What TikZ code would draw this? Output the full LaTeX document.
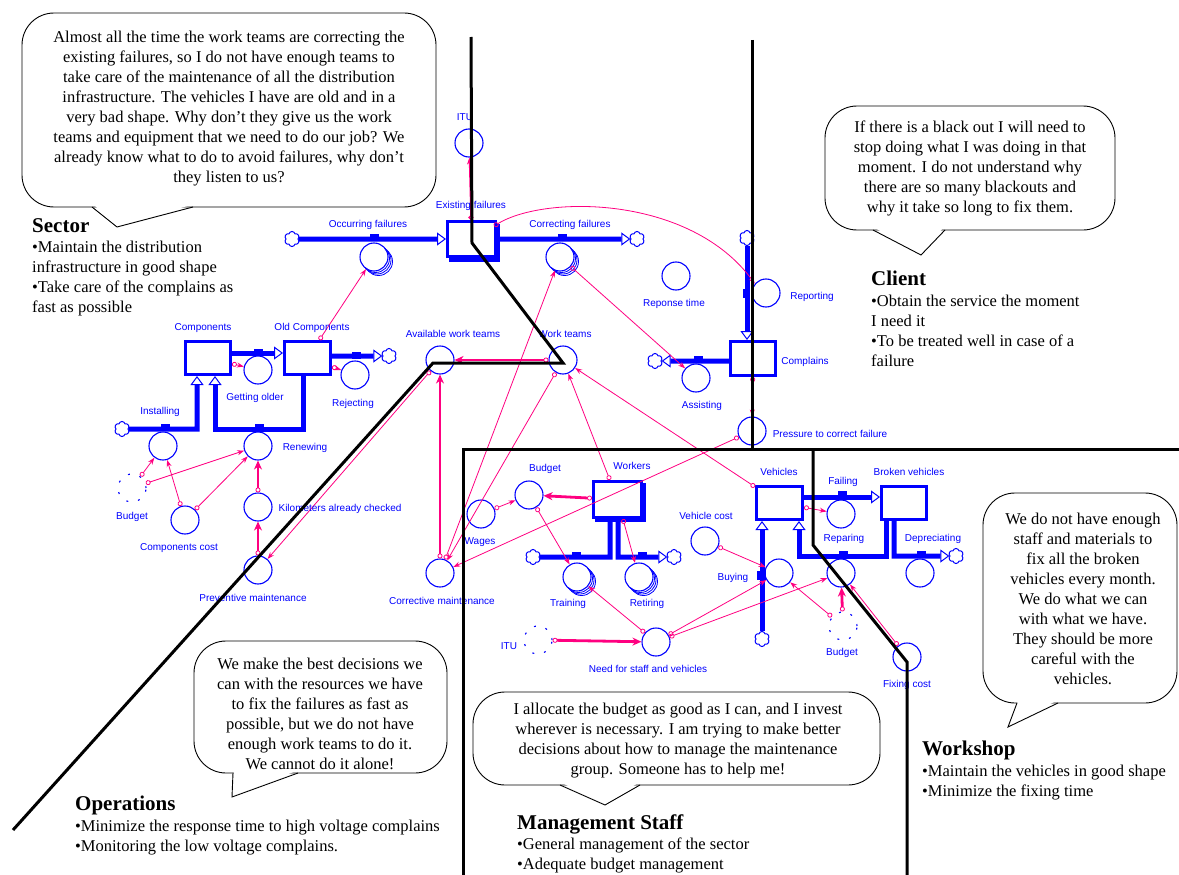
\documentclass[tikz,border=0pt]{standalone}
\usepackage{fontspec}
\setmainfont{Liberation Serif}
\newfontfamily\sdfont{Liberation Sans}
\usetikzlibrary{arrows.meta,shapes.symbols}

\definecolor{sdblue}{RGB}{0,0,255}
\definecolor{sdpink}{RGB}{255,0,128}

\tikzset{
  stock/.style={rectangle, draw=sdblue, line width=3pt, fill=white, inner sep=0pt},
  aux/.style={circle, draw=sdblue, line width=1.1pt, fill=white, minimum size=28pt, inner sep=0pt},
  ghost/.style={circle, draw=sdblue, line width=1.1pt, dash pattern=on 2pt off 10pt, minimum size=28pt, inner sep=0pt},
  cloudy/.style={cloud, cloud puffs=6, cloud puff arc=150, aspect=1, draw=sdblue, line width=1pt, fill=white, minimum width=15pt, minimum height=15pt, inner sep=0pt},
  valve/.style={rectangle, fill=sdblue, minimum width=9pt, minimum height=7pt, inner sep=0pt},
  pipe/.style={draw=sdblue, line width=5pt},
  inflow/.style={pipe, -{Triangle[length=9pt, width=13pt, line width=1pt, fill=white]}},
  link/.style={draw=sdpink, line width=0.8pt, {Circle[open, length=5pt, width=5pt]}-{Stealth[length=7pt, width=5pt]}},
  thicklink/.style={draw=sdpink, line width=2.8pt, {Circle[open, length=5pt, width=5pt, line width=0.8pt]}-{Stealth[length=9pt, width=8pt]}},
  varname/.style={font=\sdfont\fontsize{10}{12}\selectfont, text=sdblue, inner sep=0pt},
  bubble/.style={draw=black, line width=0.9pt, fill=white, rounded corners=32pt},
  say/.style={font=\fontsize{16.5}{20}\selectfont, align=center, inner sep=0pt},
  role/.style={font=\fontsize{21}{24}\selectfont\bfseries, anchor=base west, inner sep=0pt},
  goals/.style={font=\fontsize{16.5}{20}\selectfont, align=left, anchor=base west, inner sep=0pt},
  zone/.style={draw=black, line width=3pt}
}

\begin{document}
\begin{tikzpicture}[x=1pt, y=-1pt]

\useasboundingbox (0,0) rectangle (1179,875);

\draw[bubble] (22,13) rectangle (436,207);
\fill[white] (94,205) -- (117,226) -- (191,205) -- cycle;
\draw[line width=0.9pt] (92,207) -- (117,227) -- (193,207);
\node[say] (s-sector) at (229,109) {Almost all the time the work teams are correcting the\\existing failures, so I do not have enough teams to\\take care of the maintenance of all the distribution\\infrastructure. The vehicles I have are old and in a\\very bad shape. Why don’t they give us the work\\teams and equipment that we need to do our job? We\\already know what to do to avoid failures, why don’t\\they listen to us?};

\draw[bubble] (825,106) rectangle (1115,230);
\fill[white] (875,228) -- (921,254) -- (943,228) -- cycle;
\draw[line width=0.9pt] (873,230) -- (921,255) -- (945,230);
\node[say] (s-client) at (970,168) {If there is a black out I will need to\\stop doing what I was doing in that\\moment. I do not understand why\\there are so many blackouts and\\why it take so long to fix them.};

\draw[bubble] (194,641) rectangle (447,773);
\fill[white] (234,771) -- (233,796) -- (296,771) -- cycle;
\draw[line width=0.9pt] (233,773) -- (232,797) -- (298,773);
\node[say] (s-oper) at (320,714) {We make the best decisions we\\can with the resources we have\\to fix the failures as fast as\\possible, but we do not have\\enough work teams to do it.\\We cannot do it alone!};

\draw[bubble] (473,692) rectangle (880,785);
\fill[white] (562,783) -- (605,804) -- (638,783) -- cycle;
\draw[line width=0.9pt] (560,785) -- (605,805) -- (640,785);
\node[say] (s-manag) at (678,741) {I allocate the budget as good as I can, and I invest\\wherever is necessary. I am trying to make better\\decisions about how to manage the maintenance\\group. Someone has to help me!};

\draw[bubble] (983,493) rectangle (1177,703);
\fill[white] (1018,701) -- (1009,725) -- (1056,701) -- cycle;
\draw[line width=0.9pt] (1017,703) -- (1008,727) -- (1058,703);
\node[say] (s-work) at (1083,599) {We do not have enough\\staff and materials to\\fix all the broken\\vehicles every month.\\We do what we can\\with what we have.\\They should be more\\careful with the\\vehicles.};

\node[role] (r-sector) at (32,232) {Sector};
\node[goals] (g-sector) at (32,312) {•Maintain the distribution\\infrastructure in good shape\\•Take care of the complains as\\fast as possible};
\node[role] (r-client) at (871,285) {Client};
\node[goals] (g-client) at (871,366) {•Obtain the service the moment\\I need it\\•To be treated well in case of a\\failure};
\node[role] (r-oper) at (75,810) {Operations};
\node[goals] (g-oper) at (75,851) {•Minimize the response time to high voltage complains\\•Monitoring the low voltage complains.};
\node[role] (r-manag) at (517,829) {Management Staff};
\node[goals] (g-manag) at (517,869) {•General management of the sector\\•Adequate budget management};
\node[role] (r-work) at (922,755) {Workshop};
\node[goals] (g-work) at (922,796) {•Maintain the vehicles in good shape\\•Minimize the fixing time};

\node[stock] (comp) at (208,358) [minimum width=45pt, minimum height=33pt] {};
\node[stock] (oldcomp) at (307.5,358) [minimum width=46pt, minimum height=33pt] {};
\node[stock, fill=sdblue] (exfail-sh) at (474.5,243) [minimum width=48pt, minimum height=35pt] {};
\node[stock] (exfail) at (471.5,239) [minimum width=48pt, minimum height=35pt] {};
\node[stock] (compl) at (753,358.5) [minimum width=45pt, minimum height=34pt] {};
\node[stock, fill=sdblue] (workers-sh) at (620.5,502.5) [minimum width=48pt, minimum height=36pt] {};
\node[stock] (workers) at (617.5,499.5) [minimum width=48pt, minimum height=36pt] {};
\node[stock] (veh) at (779.5,503) [minimum width=46pt, minimum height=33pt] {};
\node[stock] (brokveh) at (904,503) [minimum width=45pt, minimum height=33pt] {};

\foreach \cx/\cy in {374/257, 560/257, 577/577, 639/577}
  \foreach \k in {4.5,3,1.5}
    \draw[sdblue, line width=0.8pt, fill=white] (\cx+\k,\cy+\k) circle (14pt);

\node[aux] (occfail) at (374,257) {};
\node[aux] (corrfail) at (560,257) {};
\node[aux] (getold) at (258,370) {};
\node[aux] (reject) at (355,375) {};
\node[aux] (install) at (163,446) {};
\node[aux] (renew) at (258,446) {};
\node[ghost] (budA) at (132,488) {};
\node[aux] (compcost) at (185,520) {};
\node[aux] (kmcheck) at (258,507) {};
\node[aux] (prevmaint) at (258,570) {};
\node[aux] (avail) at (440,360) {};
\node[aux] (workteams) at (563,360) {};
\node[aux] (corrmaint) at (440,573) {};
\node[aux] (itutop) at (469,143) {};
\node[aux] (resptime) at (676,276) {};
\node[aux] (report) at (766,293) {};
\node[aux] (assist) at (696,378) {};
\node[aux] (pressure) at (752,431) {};
\node[aux] (budget) at (529,495) {};
\node[aux] (wages) at (481,514) {};
\node[aux] (training) at (577,577) {};
\node[aux] (retiring) at (639,577) {};
\node[aux] (vehcost) at (705,541) {};
\node[ghost] (ituB) at (538,640) {};
\node[aux] (needstaff) at (656,642) {};
\node[aux] (buying) at (779,573) {};
\node[aux] (failing) at (841,514) {};
\node[aux] (reparing) at (841,573) {};
\node[aux] (deprec) at (920,573) {};
\node[ghost] (budC) at (843,626) {};
\node[aux] (fixcost) at (907,657) {};

\node[cloudy] (cl-occ) at (292,239) {};
\node[cloudy] (cl-corr) at (637,239) {};
\node[cloudy] (cl-rej) at (389,356) {};
\node[cloudy] (cl-inst) at (122,429) {};
\node[cloudy] (cl-rep) at (747,238) {};
\node[cloudy] (cl-asst) at (655,361) {};
\node[cloudy] (cl-train) at (533,557) {};
\node[cloudy] (cl-ret) at (674,557) {};
\node[cloudy] (cl-buy) at (762,639) {};
\node[cloudy] (cl-dep) at (956,556) {};

\coordinate (in-a) at (197,429);
\coordinate (rn-a) at (303,429);
\coordinate (rn-b) at (215,429);
\coordinate (tr-a) at (610,557);
\coordinate (rt-a) at (618,557);
\coordinate (rp-a) at (886,556);
\coordinate (rp-b) at (799,556);
\coordinate (dp-a) at (894,556);

\draw[inflow] (cl-occ) -- (exfail);
\draw[inflow] (exfail) -- (cl-corr);
\draw[inflow] ([yshift=5pt]comp.east) -- ([yshift=5pt]oldcomp.west);
\draw[inflow] ([yshift=2pt]oldcomp.east) -- (cl-rej);
\draw[inflow] (cl-inst) -- (in-a) -- (comp.south -| in-a);
\draw[inflow] (oldcomp.south -| rn-a) -- (rn-a) -- (rn-b) -- (comp.south -| rn-b);
\draw[inflow] (cl-rep) -- (compl.north -| cl-rep);
\draw[inflow] (compl.west |- cl-asst) -- (cl-asst);
\draw[pipe] (cl-train) -- (tr-a) -- (workers.south -| tr-a);
\draw[inflow] (workers.south -| rt-a) -- (rt-a) -- (cl-ret);
\draw[inflow] (cl-buy) -- (veh.south -| cl-buy);
\draw[inflow] ([yshift=6pt]veh.east) -- ([yshift=6pt]brokveh.west);
\draw[inflow] (brokveh.south -| rp-a) -- (rp-a) -- (rp-b) -- (veh.south -| rp-b);
\draw[inflow] (brokveh.south -| dp-a) -- (dp-a) -- (cl-dep);

\node[valve] (v-occ) at (374,237) {};
\node[valve] (v-corr) at (562,237) {};
\node[valve] (v-old) at (258,352) {};
\node[valve] (v-rej) at (356,355) {};
\node[valve] (v-inst) at (165,427) {};
\node[valve] (v-renew) at (259,427) {};
\node[valve, minimum width=7pt, minimum height=9pt] (v-rep) at (746,293) {};
\node[valve] (v-asst) at (698,359) {};
\node[valve] (v-train) at (576,555) {};
\node[valve] (v-ret) at (642,555) {};
\node[valve, minimum width=9pt, minimum height=9pt] (v-buy) at (761,575) {};
\node[valve] (v-fail) at (842,494) {};
\node[valve] (v-repar) at (843,554) {};
\node[valve] (v-dep) at (921,554) {};

\draw[link] (comp) -- (getold);
\draw[link] (oldcomp) -- (reject);
\draw[link] (oldcomp) -- (occfail);
\draw[link] (budA) -- (install);
\draw[link] (budA) -- (renew);
\draw[link] (compcost) -- (install);
\draw[link] (compcost) -- (renew);
\draw[thicklink] (kmcheck) -- (renew);
\draw[thicklink] (prevmaint) -- (kmcheck);
\draw[link] (avail) -- (prevmaint);
\draw[thicklink] (workteams) -- (avail);
\draw[thicklink] (corrmaint) -- (avail);
\draw[link] (workteams) -- (corrmaint);
\draw[link] (corrmaint) -- (corrfail);
\draw[link] (corrfail) -- (assist);
\draw[link] ([shift={(-3pt,-6pt)}]exfail.north east) .. controls (545,195) and (690,195) .. (report.140);
\draw[link, line width=1.3pt] (exfail) -- (itutop);
\draw[link] (compl) -- (pressure);
\draw[link] (pressure) -- (corrmaint);
\draw[link] (veh) -- (workteams);
\draw[link] (workers) -- (workteams);
\draw[thicklink] (workers) -- (budget);
\draw[link] (wages) -- (budget);
\draw[link] (budget) -- (training);
\draw[link] (workers) -- (retiring);
\draw[link] (needstaff) -- (training);
\draw[thicklink] (ituB) -- (needstaff);
\draw[link] (needstaff) -- (buying);
\draw[link] (needstaff) -- (reparing);
\draw[link] (vehcost) -- (buying);
\draw[link] (budC) -- (buying);
\draw[thicklink] (budC) -- (reparing);
\draw[link] (fixcost) -- (reparing);
\draw[link] (veh) -- (failing);

\node[varname] (t-itutop) at (465,117) {ITU};
\node[varname] (t-exfail) at (471,206) {Existing failures};
\node[varname] (t-occfail) at (368,225) {Occurring failures};
\node[varname] (t-corrfail) at (570,225) {Correcting failures};
\node[varname] (t-comp) at (203,328) {Components};
\node[varname] (t-oldcomp) at (312,328) {Old Components};
\node[varname] (t-getold) at (255,398) {Getting older};
\node[varname] (t-reject) at (353,404) {Rejecting};
\node[varname] (t-install) at (160,412) {Installing};
\node[varname] (t-renew) at (305,448) {Renewing};
\node[varname] (t-budA) at (132,517) {Budget};
\node[varname] (t-compcost) at (179,548) {Components cost};
\node[varname] (t-kmcheck) at (340,509) {Kilometers already checked};
\node[varname] (t-prevmaint) at (253,598) {Preventive maintenance};
\node[varname] (t-avail) at (453,334) {Available work teams};
\node[varname] (t-workteams) at (565,334) {Work teams};
\node[varname] (t-corrmaint) at (442,601) {Corrective maintenance};
\node[varname] (t-resptime) at (674,304) {Reponse time};
\node[varname] (t-report) at (812,297) {Reporting};
\node[varname] (t-compl) at (805,362) {Complains};
\node[varname] (t-assist) at (702,406) {Assisting};
\node[varname] (t-pressure) at (830,434) {Pressure to correct failure};
\node[varname] (t-budget) at (545,469) {Budget};
\node[varname] (t-workers) at (632,466) {Workers};
\node[varname] (t-wages) at (480,542) {Wages};
\node[varname] (t-training) at (568,604) {Training};
\node[varname] (t-retiring) at (647,604) {Retiring};
\node[varname] (t-vehcost) at (706,516) {Vehicle cost};
\node[varname] (t-ituB) at (509,646) {ITU};
\node[varname] (t-needstaff) at (648,669) {Need for staff and vehicles};
\node[varname] (t-veh) at (779,472) {Vehicles};
\node[varname] (t-failing) at (843,482) {Failing};
\node[varname] (t-brokveh) at (909,472) {Broken vehicles};
\node[varname] (t-reparing) at (844,539) {Reparing};
\node[varname] (t-deprec) at (933,539) {Depreciating};
\node[varname] (t-buying) at (733,578) {Buying};
\node[varname] (t-budC) at (842,653) {Budget};
\node[varname] (t-fixcost) at (907,685) {Fixing cost};

\draw[zone] (471,37) -- (472,243) -- (563,363) -- (433,363) -- (13,830);
\draw[zone] (752,40) -- (752,449);
\draw[zone] (463,875) -- (463,449) -- (1179,449);
\draw[zone] (813,449) -- (813,545) -- (907,662) -- (907,875);

\end{tikzpicture}
\end{document}
